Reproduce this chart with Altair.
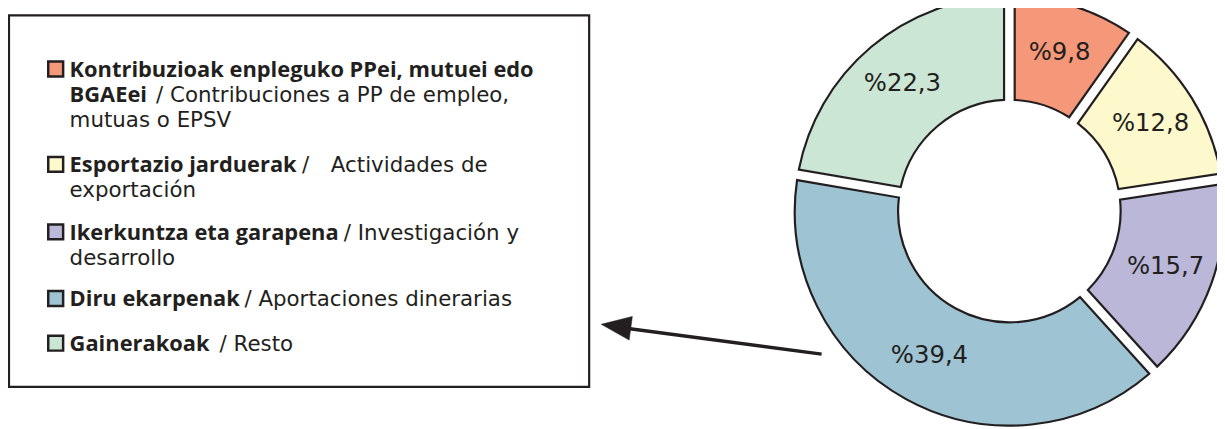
import altair as alt
import pandas as pd

# ---- data ----
categories = [
    "Kontribuzioak enpleguko PPei, mutuei edo BGAEei",
    "Esportazio jarduerak",
    "Ikerkuntza eta garapena",
    "Diru ekarpenak",
    "Gainerakoak",
]
values = [9.8, 12.8, 15.7, 39.4, 22.3]
value_labels = ["%9,8", "%12,8", "%15,7", "%39,4", "%22,3"]
colors = ["#F59779", "#FEF9CD", "#BBB7D9", "#9EC3D3", "#CCE6D6"]

legend_bold = [
    "Kontribuzioak enpleguko PPei, mutuei edo",
    "BGAEei",
    "Esportazio jarduerak",
    "Ikerkuntza eta garapena",
    "Diru ekarpenak",
    "Gainerakoak",
]
legend_normal = [
    "/ Contribuciones a PP de empleo,",
    "mutuas o EPSV",
    "/",
    "Actividades de",
    "exportación",
    "/ Investigación y",
    "desarrollo",
    "/ Aportaciones dinerarias",
    "/ Resto",
]

# ---- layout (pixel positions, page coordinates) ----
OFF = 8
bold_pos = [(70, 76), (70, 101), (70, 172), (70, 240), (70, 307), (70, 352)]
normal_pos = [(157, 101), (70, 126), (304, 172), (333, 172), (70, 197),
              (346, 240), (70, 265), (246, 307), (221, 352)]
square_pos = [(56, 68), (56, 164), (56, 232), (56, 299), (56, 344)]

INK = "#231f20"
BOLD_FONT = "Open Sans"
TEXT_FONT = "DejaVu Sans"
CX, CY = 1016 - OFF, 211 - OFF

df = pd.DataFrame({
    "cat": categories,
    "value": values,
    "label": value_labels,
    "idx": list(range(len(values))),
})

color_scale = alt.Scale(domain=categories, range=colors)

base = alt.Chart(df).encode(
    theta=alt.Theta("value:Q", stack=True),
    order=alt.Order("idx:Q"),
)

arcs = base.mark_arc(
    innerRadius=112, outerRadius=216, padAngle=0.044,
    stroke=INK, strokeWidth=2.2,
).encode(
    color=alt.Color("cat:N", scale=color_scale, legend=None),
    x=alt.value(CX), y=alt.value(CY),
)

pct = base.mark_text(
    radius=167, font=TEXT_FONT, fontSize=24.5, color=INK, fontWeight="normal",
).encode(
    text="label:N",
    x=alt.value(CX), y=alt.value(CY),
)

one = pd.DataFrame({"a": [0]})

box = alt.Chart(one).mark_rect(
    fill="white", stroke=INK, strokeWidth=2.2,
).encode(
    x=alt.value(9 - OFF), x2=alt.value(593 - OFF),
    y=alt.value(14 - OFF), y2=alt.value(388 - OFF),
)

sq_df = pd.DataFrame({
    "cat": categories,
    "sx": [p[0] - OFF for p in square_pos],
    "sy": [p[1] - OFF for p in square_pos],
})
squares = alt.Chart(sq_df).mark_point(
    shape="square", filled=True, size=225, stroke=INK, strokeWidth=2.5, opacity=1,
).encode(
    x=alt.X("sx:Q", scale=None, axis=None),
    y=alt.Y("sy:Q", scale=None, axis=None),
    fill=alt.Fill("cat:N", scale=color_scale, legend=None),
)

bold_df = pd.DataFrame({
    "t": legend_bold,
    "tx": [p[0] - OFF for p in bold_pos],
    "ty": [p[1] - OFF for p in bold_pos],
})
normal_df = pd.DataFrame({
    "t": legend_normal,
    "tx": [p[0] - OFF for p in normal_pos],
    "ty": [p[1] - OFF for p in normal_pos],
})

bold_text = alt.Chart(bold_df).mark_text(
    align="left", baseline="alphabetic", font=BOLD_FONT, fontSize=22,
    fontWeight="bold", color=INK,
).encode(
    x=alt.X("tx:Q", scale=None, axis=None),
    y=alt.Y("ty:Q", scale=None, axis=None),
    text="t:N",
)
normal_text = alt.Chart(normal_df).mark_text(
    align="left", baseline="alphabetic", font=TEXT_FONT, fontSize=21.5,
    fontWeight="normal", color=INK,
).encode(
    x=alt.X("tx:Q", scale=None, axis=None),
    y=alt.Y("ty:Q", scale=None, axis=None),
    text="t:N",
)

arrow_line = alt.Chart(one).mark_rule(stroke=INK, strokeWidth=3.5).encode(
    x=alt.value(827 - OFF), y=alt.value(355 - OFF),
    x2=alt.value(615 - OFF), y2=alt.value(327 - OFF),
)
arrow_head = alt.Chart(one).mark_point(
    shape="M-1,0L1,-0.8L1,0.8Z", size=900, filled=True, fill=INK,
    stroke=INK, strokeWidth=0.5, angle=7.7, opacity=1,
).encode(
    x=alt.value(620 - OFF), y=alt.value(327 - OFF),
)

chart = alt.layer(
    box, arrow_line, arrow_head, squares, bold_text, normal_text, arcs, pct,
).resolve_scale(theta="shared").properties(
    width=1217, height=421,
    autosize=alt.AutoSizeParams(type="none"),
    padding=0,
    background="white",
).configure_view(stroke=None)

chart.save("out.html", embed_options={"renderer": "svg", "actions": False})
